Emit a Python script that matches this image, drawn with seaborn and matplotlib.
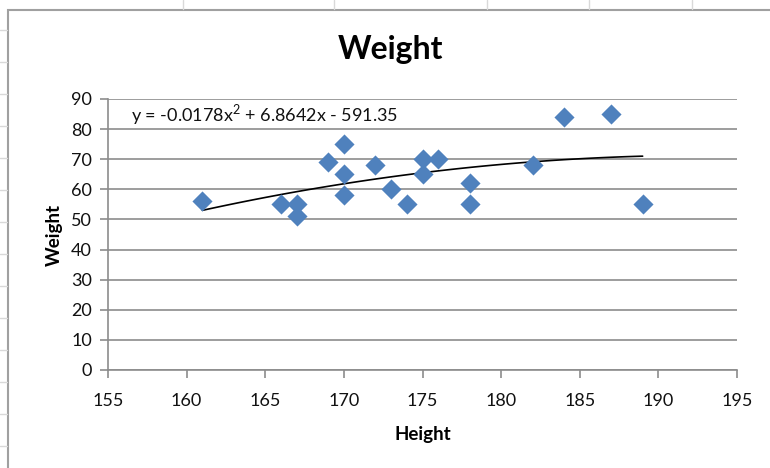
import matplotlib
matplotlib.use("Agg")
import matplotlib.pyplot as plt
from matplotlib.lines import Line2D
from matplotlib.patches import Rectangle
import seaborn as sns
import pandas as pd

heights = [161, 166, 167, 167, 169, 170, 170, 170, 172, 173, 174, 175, 175, 176, 178, 178, 182, 184, 187, 189]
weights = [56, 55, 55, 51, 69, 75, 65, 58, 68, 60, 55, 70, 65, 70, 62, 55, 68, 84, 85, 55]
x_ticks = [155, 160, 165, 170, 175, 180, 185, 190, 195]
y_ticks = [0, 10, 20, 30, 40, 50, 60, 70, 80, 90]
equation = r"y = -0.0178x$^{2}$ + 6.8642x - 591.35"

df = pd.DataFrame({"Height": heights, "Weight": weights})

sns.set_theme(style="white")
plt.rcParams["font.family"] = ["Lato", "DejaVu Sans"]
plt.rcParams["mathtext.fontset"] = "custom"
plt.rcParams["mathtext.rm"] = "Lato"

W, H = 770, 468
fig = plt.figure(figsize=(7.7, 4.68), dpi=100)

# spreadsheet background grid
grid_c = "#d9d9d9"
for xv in [183, 334, 487, 589, 692]:
    fig.add_artist(Line2D([xv / W, xv / W], [1, 1 - 9 / H], color=grid_c, lw=1))
for yv in [30, 62, 94, 126, 158, 190, 222, 254, 286, 318, 350, 382, 414, 446]:
    fig.add_artist(Line2D([0, 7 / W], [1 - yv / H, 1 - yv / H], color=grid_c, lw=1))
# chart frame
fig.add_artist(Rectangle((8 / W, -0.01), 1.0, 1 - 10 / H + 0.01, transform=fig.transFigure,
                         facecolor="white", edgecolor="#a0a0a0", lw=1.5, zorder=0))

ax = fig.add_axes([108 / W, 1 - 370 / H, (737 - 108) / W, (370 - 99) / H])
ax.set_facecolor("none")

sns.scatterplot(data=df, x="Height", y="Weight", marker="D", s=105,
                color="#4F81BD", edgecolor="#4F81BD", linewidth=0, ax=ax, zorder=3)
sns.regplot(data=df, x="Height", y="Weight", order=2, ci=None, scatter=False,
            line_kws=dict(color="black", lw=1.2), ax=ax, truncate=True)

ax.set_xlim(155, 195)
ax.set_ylim(0, 90)
ax.set_xticks(x_ticks)
ax.set_yticks(y_ticks)
ax.yaxis.grid(True, color="#8c8c8c", lw=1.2)
ax.xaxis.grid(False)
ax.set_axisbelow(True)
for s in ["top", "right"]:
    ax.spines[s].set_visible(False)
for s in ["left", "bottom"]:
    ax.spines[s].set_color("#8c8c8c")
    ax.spines[s].set_linewidth(1.2)
ax.tick_params(axis="both", which="major", direction="out", length=5.5, width=1.2,
               color="#8c8c8c", labelsize=13, labelcolor="#111111", bottom=True, left=True)
ax.tick_params(axis="x", pad=11)
ax.tick_params(axis="y", pad=6)

ax.set_xlabel("Height", fontsize=13.5, fontweight="bold", labelpad=12, color="black")
ax.set_ylabel("Weight", fontsize=13.5, fontweight="bold", labelpad=6, color="black")

fig.text(390 / W, 1 - 50 / H, "Weight", ha="center", va="center", fontsize=23,
         fontweight="bold", color="black")
ax.text(131 / W, 1 - 115 / H, equation, transform=fig.transFigure, ha="left", va="center",
        fontsize=13, color="#111111")

fig.savefig("out.png", dpi=100)
